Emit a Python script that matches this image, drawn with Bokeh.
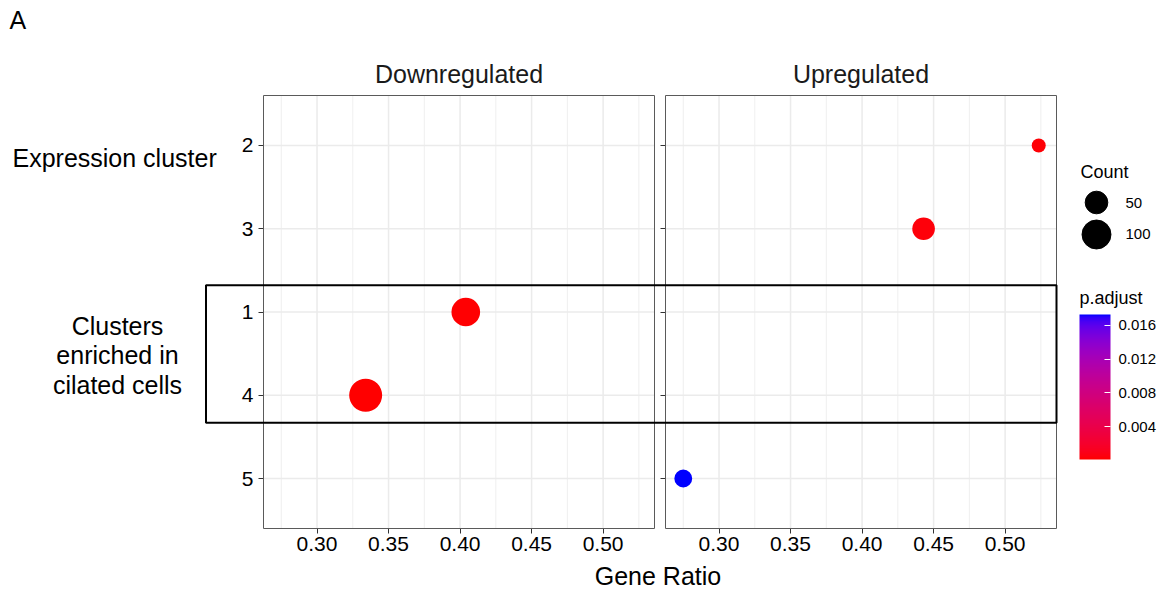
import math
from bokeh.plotting import figure
from bokeh.models import (Range1d, FactorRange, LinearAxis, CategoricalAxis, FixedTicker,
                          ColumnDataSource, LinearColorMapper, ColorBar,
                          BoxAnnotation, NumeralTickFormatter)
from bokeh.core.properties import value
from bokeh.embed import file_html
from bokeh.resources import INLINE

# ---------------- data ----------------
panels = ["Downregulated", "Upregulated"]
cluster_order = ["2", "3", "1", "4", "5"]          # top to bottom
direction = ["Downregulated", "Downregulated", "Upregulated", "Upregulated", "Upregulated"]
cluster = ["1", "4", "2", "3", "5"]
gene_ratio = [0.404, 0.334, 0.5235, 0.443, 0.275]
count = [97, 146, 25, 50, 30]
p_adjust = [0.0002, 0.0001, 0.0003, 0.0004, 0.0173]
x_ticks = [0.30, 0.35, 0.40, 0.45, 0.50]
x_minor = [0.275, 0.325, 0.375, 0.425, 0.475, 0.525]
count_breaks = [50, 100]
padj_ticks = [0.004, 0.008, 0.012, 0.016]
highlighted = ["1", "4"]
y_labels = ["Expression cluster", "Clusters\nenriched in\ncilated cells"]
x_title = "Gene Ratio"
size_title = "Count"
color_title = "p.adjust"
tag = "A"

FONT = "Liberation Sans"
BIG = "25px"
TICK = "21px"

# ---------------- layout (page pixels; canvas sits at page origin) ----------------
W, H = 1160, 588
FRAME_TOP = 35
FRAME_BOT = H
P_TOP, P_BOT = 95, 528
P_LEFT = [263, 665]
P_W = 391
EXP = 0.6

# x limits: data range expanded by 5 %
dmin, dmax = min(gene_ratio), max(gene_ratio)
XLO = dmin - 0.05 * (dmax - dmin)
XHI = dmax + 0.05 * (dmax - dmin)
K = P_W / (XHI - XLO)


def panel_range(left_px):
    return Range1d(XLO - left_px / K, XLO + (W - left_px) / K)


n = len(cluster_order)
unit = (P_BOT - P_TOP) / (n - 1 + 2 * EXP)
pad_side = ((FRAME_BOT - FRAME_TOP) / unit - n) / 2
y_lo, y_hi = 0.5 - EXP, n - 0.5 + EXP
factors = list(reversed(cluster_order))
Y_MID = (P_TOP + P_BOT) / 2


def ys(page_y):
    """page pixel row -> synthetic coordinate on the categorical y range"""
    return n / 2 + (Y_MID - page_y) / unit


# ---------------- colours (Lab interpolation red -> blue) ----------------
def _lin(c):
    c = c / 255.0
    return c / 12.92 if c <= 0.04045 else ((c + 0.055) / 1.055) ** 2.4


def _delin(c):
    c = max(0.0, c)
    c = 12.92 * c if c <= 0.0031308 else 1.055 * c ** (1 / 2.4) - 0.055
    return max(0, min(255, round(c * 255)))


WN = (0.95047, 1.0, 1.08883)


def to_lab(rgb):
    r, g, b = (_lin(v) for v in rgb)
    X = 0.4124 * r + 0.3576 * g + 0.1805 * b
    Y = 0.2126 * r + 0.7152 * g + 0.0722 * b
    Z = 0.0193 * r + 0.1192 * g + 0.9505 * b
    def f(t):
        return t ** (1 / 3) if t > (6 / 29) ** 3 else t / (3 * (6 / 29) ** 2) + 4 / 29
    fx, fy, fz = f(X / WN[0]), f(Y / WN[1]), f(Z / WN[2])
    return 116 * fy - 16, 500 * (fx - fy), 200 * (fy - fz)


def from_lab(L, a, b):
    fy = (L + 16) / 116
    fx = fy + a / 500
    fz = fy - b / 200
    def fi(t):
        return t ** 3 if t > 6 / 29 else 3 * (6 / 29) ** 2 * (t - 4 / 29)
    X, Y, Z = WN[0] * fi(fx), WN[1] * fi(fy), WN[2] * fi(fz)
    r = 3.2406 * X - 1.5372 * Y - 0.4986 * Z
    g = -0.9689 * X + 1.8758 * Y + 0.0415 * Z
    bb = 0.0557 * X - 0.2040 * Y + 1.0570 * Z
    return "#%02x%02x%02x" % (_delin(r), _delin(g), _delin(bb))


lab_lo, lab_hi = to_lab((255, 0, 0)), to_lab((0, 0, 255))
palette = [from_lab(*[lo + (hi - lo) * i / 255 for lo, hi in zip(lab_lo, lab_hi)]) for i in range(256)]
mapper = LinearColorMapper(palette=palette, low=min(p_adjust), high=max(p_adjust))

c_lo, c_hi = min(count), max(count)


def size_px(c):
    return 14 + 19 * math.sqrt((c - c_lo) / (c_hi - c_lo))


# ---------------- figure ----------------
p = figure(width=W, height=H, x_range=panel_range(P_LEFT[0]),
           y_range=FactorRange(factors=factors, range_padding=pad_side,
                               range_padding_units="absolute"),
           x_axis_location=None, y_axis_location=None, toolbar_location=None,
           output_backend="svg", min_border=0, min_border_top=FRAME_TOP)
p.extra_x_ranges = {"up": panel_range(P_LEFT[1]), "page": Range1d(0, W)}
p.outline_line_color = None
p.background_fill_color = "white"
p.border_fill_color = "white"
for g in p.grid:
    g.visible = False

p.title.text = tag
p.title.text_font = FONT
p.title.text_font_size = BIG
p.title.text_font_style = "normal"
p.title.text_color = "black"
p.title.align = "left"
p.title.offset = 9
p.title.standoff = 4

range_names = ["default", "up"]
GRID = "#EBEBEB"

for name, panel in zip(range_names, panels):
    # grid lines
    p.segment(x0=x_minor, x1=x_minor, y0=[y_lo] * len(x_minor), y1=[y_hi] * len(x_minor),
              x_range_name=name, line_color=GRID, line_width=0.8, level="underlay")
    p.segment(x0=x_ticks, x1=x_ticks, y0=[y_lo] * len(x_ticks), y1=[y_hi] * len(x_ticks),
              x_range_name=name, line_color=GRID, line_width=1.5, level="underlay")
    p.segment(x0=[XLO] * n, x1=[XHI] * n, y0=cluster_order, y1=cluster_order,
              x_range_name=name, line_color=GRID, line_width=1.5, level="underlay")

    # axes
    yax = CategoricalAxis(x_range_name=name, fixed_location=XLO, axis_line_color=None,
                          major_tick_line_color="#333333", major_tick_out=5, major_tick_in=0,
                          major_label_standoff=5, major_label_text_font=FONT,
                          major_label_text_font_size=TICK,
                          major_label_text_color="black" if name == "default" else None)
    p.add_layout(yax, "left")
    xax = LinearAxis(x_range_name=name, fixed_location=y_lo, bounds=(XLO, XHI),
                     ticker=FixedTicker(ticks=x_ticks, minor_ticks=[]),
                     formatter=NumeralTickFormatter(format="0.00"),
                     axis_line_color=None, major_tick_line_color="#333333",
                     major_tick_out=5, major_tick_in=0, minor_tick_line_color=None,
                     major_label_standoff=3, major_label_text_font=FONT,
                     major_label_text_font_size=TICK, major_label_text_color="black")
    p.add_layout(xax, "below")

    # points
    idx = [i for i, d in enumerate(direction) if d == panel]
    src = ColumnDataSource(dict(x=[gene_ratio[i] for i in idx], y=[cluster[i] for i in idx],
                                padj=[p_adjust[i] for i in idx],
                                size=[size_px(count[i]) for i in idx]))
    p.scatter(x="x", y="y", size="size", source=src, x_range_name=name,
              fill_color={"field": "padj", "transform": mapper}, line_color=None)

    # panel border
    p.add_layout(BoxAnnotation(x_range_name=name, left=XLO, right=XHI, bottom=y_lo, top=y_hi,
                               fill_color=None, fill_alpha=0, line_color="#5a5a5a",
                               line_alpha=1, line_width=1))

    # strip label
    p.text(x=[(XLO + XHI) / 2], y=[ys(73.5)], text=[panel], x_range_name=name,
           text_align="center", text_baseline="middle", text_font=value(FONT),
           text_font_size=BIG, text_color="#1a1a1a")

# highlight box around clusters 1 and 4
top_syn = factors.index(highlighted[0]) + 0.5 + 0.32
bot_syn = factors.index(highlighted[1]) + 0.5 - 0.33
p.add_layout(BoxAnnotation(x_range_name="up", left=XLO - (P_LEFT[1] - 205.5) / K, right=XHI,
                           top=top_syn, bottom=bot_syn, fill_color=None, fill_alpha=0,
                           line_color="black", line_alpha=1, line_width=2))

# left-hand annotations
p.text(x=[12], y=[ys(157.5)], text=[y_labels[0]], x_range_name="page",
       text_align="left", text_baseline="middle", text_font=value(FONT),
       text_font_size=BIG, text_color="black")
p.text(x=[117], y=[ys(355)], text=[y_labels[1]], x_range_name="page",
       text_align="center", text_baseline="middle", text_font=value(FONT),
       text_font_size=BIG, text_color="black", text_line_height=1.05)

# x axis title
p.text(x=[(P_LEFT[0] + P_LEFT[1] + P_W) / 2 - 2], y=[ys(575)], text=[x_title],
       x_range_name="page", text_align="center", text_baseline="middle",
       text_font=value(FONT), text_font_size=BIG, text_color="black")

# size legend
p.text(x=[1080], y=[ys(171)], text=[size_title], x_range_name="page",
       text_align="left", text_baseline="middle", text_font=value(FONT),
       text_font_size="18px", text_color="black")
p.scatter(x=[1096, 1096], y=[ys(202), ys(234)], size=[size_px(c) for c in count_breaks],
          color="black", x_range_name="page")
p.text(x=[1125, 1125], y=[ys(202), ys(234)], text=[str(c) for c in count_breaks],
       x_range_name="page", text_align="left", text_baseline="middle", text_font=value(FONT),
       text_font_size="15px", text_color="black")

# colour bar
p.text(x=[1079], y=[ys(297)], text=[color_title], x_range_name="page",
       text_align="left", text_baseline="middle", text_font=value(FONT),
       text_font_size="18px", text_color="black")
cb = ColorBar(color_mapper=mapper, ticker=FixedTicker(ticks=padj_ticks, minor_ticks=[]),
              formatter=NumeralTickFormatter(format="0.000"),
              width=31, height=145, padding=0, margin=0, label_standoff=8,
              major_label_text_font=FONT, major_label_text_font_size="15px",
              major_label_text_color="black",
              major_tick_line_color="white", major_tick_in=6, major_tick_out=0,
              minor_tick_line_color=None, bar_line_color=None, border_line_color=None,
              background_fill_color=None, location=(1079, FRAME_BOT - 459))
p.add_layout(cb)

open("out.html", "w").write(file_html(p, INLINE))
